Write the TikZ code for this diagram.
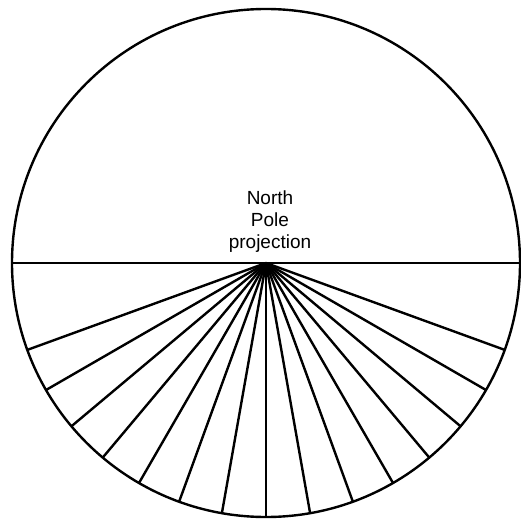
\documentclass[tikz,border=0pt]{standalone}
\usepackage{fontspec}
\setmainfont{Liberation Sans}
\begin{document}
\begin{tikzpicture}[x=1pt,y=-1pt,line width=2.4pt,
  ray/.style={line width=2.4pt},
  label/.style={align=center,font=\fontsize{19}{22}\selectfont,inner sep=0pt}]
\useasboundingbox (0,0) rectangle (521,521);
\coordinate (c) at (266,263);
\draw (c) circle[radius=254pt];
\coordinate (l) at ([shift={(c)}]180:254pt);
\coordinate (r) at ([shift={(c)}]0:254pt);
\draw[ray] (l) -- (r);
\foreach \a in {-70,-60,...,70}{
  \coordinate (e) at ([shift={(c)}]270+\a:254pt);
  \draw[ray] (c) -- (e);
}
\node[label,anchor=south] (t) at (270,254) {North\\Pole\\projection};
\end{tikzpicture}
\end{document}
